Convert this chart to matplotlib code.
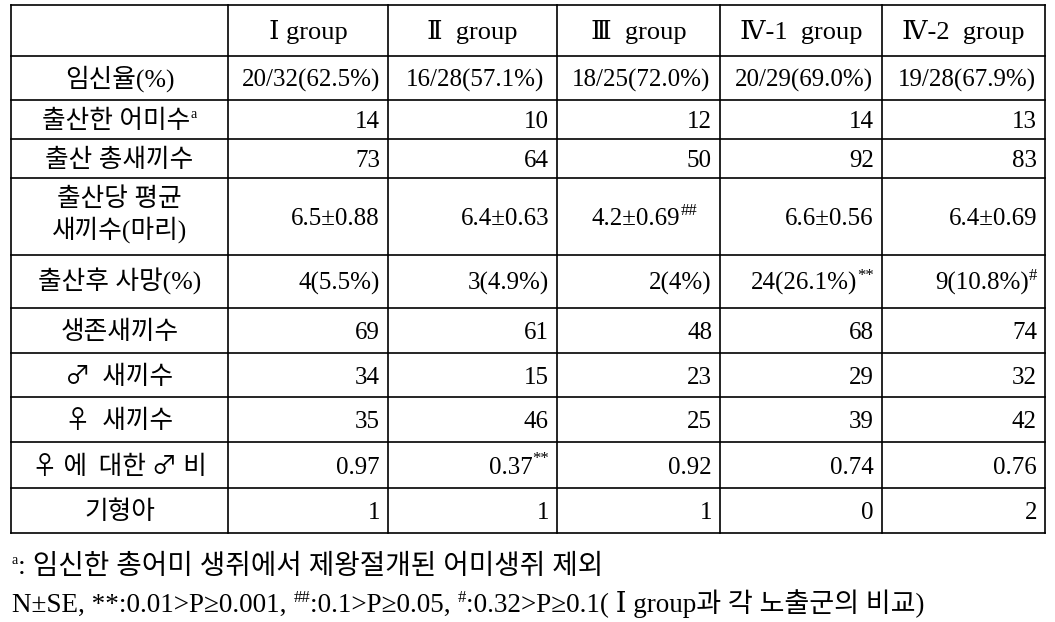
import matplotlib
matplotlib.use('Agg')
import matplotlib.pyplot as plt

SERIF = ['Liberation Serif', 'DejaVu Serif', 'Noto Sans CJK KR']
SYMB = ['Noto Sans CJK KR', 'DejaVu Sans']
plt.rcParams['font.family'] = SERIF

# table data
groups = ['Ⅰ group', 'Ⅱ  group', 'Ⅲ  group', 'Ⅳ-1  group', 'Ⅳ-2  group']
row_labels = ['임신율(%)', '출산한 어미수', '출산 총새끼수', '출산당 평균\n새끼수(마리)',
              '출산후 사망(%)', '생존새끼수', '♂  새끼수', '♀  새끼수', '♀ 에  대한 ♂ 비', '기형아']
pregnant = [20, 16, 18, 20, 19]
total_females = [32, 28, 25, 29, 28]
pregnancy_pct = ['62.5', '57.1', '72.0', '69.0', '67.9']
mothers = [14, 10, 12, 14, 13]
total_pups = [73, 64, 50, 92, 83]
mean_litter = ['6.5', '6.4', '4.2', '6.6', '6.4']
litter_se = ['0.88', '0.63', '0.69', '0.56', '0.69']
litter_mark = ['', '', '##', '', '']
deaths = [4, 3, 2, 24, 9]
death_pct = ['5.5', '4.9', '4', '26.1', '10.8']
death_mark = ['', '', '', '**', '#']
alive = [69, 61, 48, 68, 74]
males = [34, 15, 23, 29, 32]
females = [35, 46, 25, 39, 42]
sex_ratio = ['0.97', '0.37', '0.92', '0.74', '0.76']
ratio_mark = ['', '**', '', '', '']
malformed = [1, 1, 1, 0, 2]

rows = [
    [f'{a}/{b}({p}%)' for a, b, p in zip(pregnant, total_females, pregnancy_pct)],
    [str(v) for v in mothers],
    [str(v) for v in total_pups],
    [f'{m}±{s}' for m, s in zip(mean_litter, litter_se)],
    [f'{d}({p}%)' for d, p in zip(deaths, death_pct)],
    [str(v) for v in alive],
    [str(v) for v in males],
    [str(v) for v in females],
    sex_ratio,
    [str(v) for v in malformed],
]
marks = [[''] * 5, [''] * 5, [''] * 5, litter_mark, death_mark, [''] * 5, [''] * 5, [''] * 5, ratio_mark, [''] * 5]
label_marks = ['', 'a', '', '', '', '', '', '', '', '']

# layout in pixels
col_x = [11, 228, 388, 557, 720, 882, 1045]
row_y = [5, 56, 100, 139, 178, 255, 308, 353, 397, 442, 488, 533]
FS = 18      # numbers
LFS = 18.5   # row labels
SUP = 12

fig = plt.figure(figsize=(10.55, 6.22), dpi=100)
ax = fig.add_axes([0, 0, 1, 1])
ax.set_xlim(0, 1055)
ax.set_ylim(622, 0)
ax.axis('off')
renderer = fig.canvas.get_renderer()


def width(t):
    return t.get_window_extent(renderer=renderer).width


def put(x, y, main, sup='', ha='center', fs=FS, family=None, sfs=SUP, weight='normal'):
    # y is the baseline, sup raised above it
    kw = {'family': family} if family else {}
    t = ax.text(x, y, main, fontsize=fs, ha='left', va='baseline', color='black',
                fontweight=weight, **kw)
    s = ax.text(x, y - 10, sup, fontsize=sfs, ha='left', va='baseline', color='black')
    wm = width(t) if main else 0
    ws = width(s) if sup else 0
    if ha == 'center':
        x0 = x - (wm + ws) / 2
    elif ha == 'right':
        x0 = x - wm - ws
    else:
        x0 = x
    t.set_x(x0)
    s.set_x(x0 + wm)
    return x0 + wm + ws


# grid
for y in row_y:
    ax.plot([col_x[0], col_x[-1]], [y, y], color='black', lw=1.2)
for x in col_x:
    ax.plot([x, x], [row_y[0], row_y[-1]], color='black', lw=1.2)

# header
hy = (row_y[0] + row_y[1]) / 2 + 8.5
for j, g in enumerate(groups):
    put((col_x[j + 1] + col_x[j + 2]) / 2, hy, g, fs=19)

# body
for i, lab in enumerate(row_labels):
    top, bot = row_y[i + 1], row_y[i + 2]
    cy = (top + bot) / 2
    lx = (col_x[0] + col_x[1]) / 2
    fam = SYMB if ('♂' in lab or '♀' in lab) else None
    lines = lab.split('\n')
    if len(lines) == 2:
        put(lx, cy - 10.5, lines[0], fs=LFS, weight='light')
        put(lx, cy + 21.5, lines[1], fs=LFS, weight='light')
    else:
        put(lx, cy + 8.5, lab, label_marks[i], fs=LFS, family=fam, sfs=10, weight='light')
    for j in range(5):
        if i == 0:
            put((col_x[j + 1] + col_x[j + 2]) / 2 + 3, cy + 8.5, rows[i][j], marks[i][j])
        else:
            pad = 23 if marks[i][j] == '##' else 8
            put(col_x[j + 2] - pad, cy + 8.5, rows[i][j], marks[i][j], ha='right')

# footnotes
x = put(12, 574, '', 'a', ha='left', sfs=10)
put(x, 574, ': 임신한 총어미 생쥐에서 제왕절개된 어미생쥐 제외', ha='left', fs=20, weight='light')
x = 12
for main, sup in [('N±SE, **:0.01>P≥0.001, ', '##'), (':0.1>P≥0.05, ', '#'),
                  (':0.32>P≥0.1( Ⅰ group과 각 노출군의 비교)', '')]:
    x = put(x, 612, main, sup, ha='left', fs=19.5, weight='light')

fig.savefig('out.png', dpi=100)
